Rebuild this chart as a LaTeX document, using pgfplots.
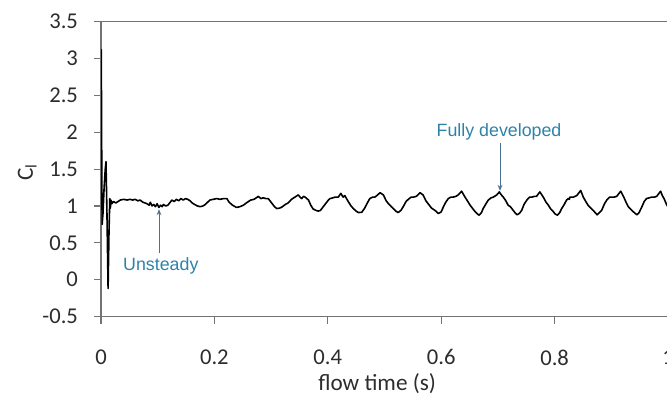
\documentclass[border=0pt]{standalone}
\usepackage{pgfplots}
\pgfplotsset{compat=1.18}
\usepackage{fontspec}
\setmainfont{Carlito}
\newfontfamily\annfont{Liberation Sans}
\usetikzlibrary{arrows.meta}
\definecolor{anntext}{RGB}{46,130,170}
\definecolor{annarrow}{RGB}{70,115,150}
\definecolor{axgray}{RGB}{115,115,115}
\definecolor{lblgray}{RGB}{45,45,45}

\pgfplotstableread{
t v
0.0000 2.40
0.0005 3.12
0.0012 1.80
0.0020 0.75
0.0035 0.90
0.0055 1.25
0.0075 1.50
0.0088 1.60
0.0105 0.90
0.0125 -0.12
0.0140 0.60
0.0155 1.10
0.0165 0.97
0.0175 1.08
0.0190 1.03
0.022 1.06
0.026 1.04
0.030 1.06
0.034 1.08
0.040 1.09
0.046 1.08
0.051 1.09
0.056 1.08
0.060 1.09
0.065 1.07
0.069 1.08
0.074 1.05
0.078 1.04
0.081 1.03
0.085 1.01
0.087 1.05
0.090 1.00
0.093 1.02
0.096 0.99
0.099 1.03
0.102 0.98
0.105 1.01
0.108 0.99
0.110 1.02
0.114 1.00
0.118 1.01
0.122 1.05
0.125 1.08
0.129 1.06
0.133 1.09
0.137 1.07
0.141 1.10
0.145 1.08
0.149 1.10
0.153 1.09
0.157 1.07
0.161 1.04
0.165 1.02
0.170 1.00
0.175 0.99
0.180 1.00
0.184 1.02
0.188 1.05
0.192 1.08
0.198 1.09
0.204 1.10
0.210 1.09
0.216 1.10
0.222 1.10
0.226 1.05
0.232 1.01
0.239 0.98
0.245 0.99
0.251 1.01
0.258 1.05
0.264 1.08
0.270 1.09
0.2775 1.13
0.282 1.10
0.286 1.11
0.291 1.10
0.295 1.10
0.301 1.04
0.306 0.99
0.310 0.965
0.315 0.97
0.319 0.985
0.325 1.02
0.330 1.04
0.336 1.09
0.342 1.12
0.348 1.15
0.351 1.12
0.354 1.10
0.357 1.13
0.360 1.12
0.366 1.08
0.370 1.01
0.374 0.96
0.379 0.94
0.383 0.93
0.387 0.94
0.392 0.99
0.396 1.03
0.401 1.08
0.404 1.10
0.409 1.11
0.413 1.12
0.4185 1.12
0.423 1.17
0.427 1.12
0.430 1.14
0.436 1.06
0.441 1.00
0.445 0.965
0.450 0.93
0.454 0.91
0.460 0.915
0.465 0.97
0.469 1.03
0.474 1.10
0.479 1.12
0.483 1.12
0.488 1.15
0.492 1.18
0.498 1.15
0.503 1.07
0.507 1.03
0.512 0.99
0.516 0.96
0.520 0.93
0.524 0.91
0.529 0.94
0.533 0.99
0.538 1.06
0.542 1.09
0.547 1.12
0.551 1.12
0.556 1.13
0.5626 1.18
0.568 1.15
0.573 1.07
0.577 1.03
0.583 0.97
0.589 0.94
0.595 0.897
0.600 0.92
0.604 0.99
0.608 1.05
0.6125 1.10
0.617 1.12
0.621 1.12
0.626 1.13
0.630 1.15
0.636 1.20
0.642 1.12
0.647 1.06
0.651 1.01
0.656 0.96
0.660 0.92
0.664 0.89
0.667 0.875
0.671 0.91
0.674 0.965
0.679 1.03
0.683 1.08
0.688 1.11
0.692 1.12
0.698 1.15
0.7025 1.19
0.706 1.15
0.7095 1.12
0.714 1.07
0.718 1.01
0.722 0.99
0.727 0.94
0.731 0.90
0.734 0.88
0.738 0.90
0.742 0.94
0.746 1.02
0.751 1.08
0.756 1.12
0.760 1.12
0.764 1.13
0.768 1.13
0.774 1.19
0.780 1.12
0.785 1.05
0.789 1.01
0.793 0.96
0.798 0.92
0.801 0.89
0.805 0.875
0.809 0.91
0.8125 0.965
0.817 1.02
0.821 1.08
0.824 1.10
0.826 1.09
0.827 1.12
0.833 1.12
0.839 1.14
0.846 1.21
0.8506 1.12
0.855 1.06
0.859 1.01
0.864 0.97
0.868 0.94
0.875 0.88
0.879 0.91
0.883 0.94
0.888 1.03
0.892 1.08
0.897 1.12
0.901 1.12
0.905 1.12
0.9095 1.13
0.9166 1.20
0.922 1.12
0.926 1.05
0.930 0.99
0.935 0.95
0.939 0.92
0.945 0.88
0.949 0.91
0.954 0.99
0.958 1.06
0.962 1.10
0.967 1.11
0.971 1.12
0.976 1.12
0.980 1.13
0.987 1.20
0.990 1.14
0.993 1.10
0.998 1.01
1.000 0.99
}\cldata

\begin{document}
\begin{tikzpicture}
\begin{axis}[
  scale only axis, width=283.5pt, height=147.4pt,
  xmin=0, xmax=1, ymin=-0.5, ymax=3.5,
  axis line style={draw=axgray, line width=0.6pt},
  xtick={0,0.2,0.4,0.6,0.8,1},
  ytick={-0.5,0,0.5,1,1.5,2,2.5,3,3.5},
  xtick pos=bottom, ytick pos=left,
  tick align=outside, major tick length=3.5pt,
  tick style={draw=axgray, line width=0.6pt},
  /pgf/number format/assume math mode=true,
  ticklabel style={font=\fontsize{11.3}{13}\selectfont, text=lblgray},
  yticklabel style={xshift=-4.5pt},
  xticklabel style={yshift=-9.5pt},
  xlabel={flow time (s)},
  ylabel={C\textsubscript{l}},
  label style={font=\fontsize{11.6}{13}\selectfont, text=lblgray},
  xlabel style={at={(axis description cs:0.487,0)}, anchor=base, yshift=-37pt},
  ylabel style={at={(axis description cs:0,0.49)}, anchor=base, yshift=34pt},
]
\addplot[black, line width=0.8pt, line join=round] table[x=t, y=v] {\cldata};
\coordinate (O) at (rel axis cs:0,0);
\draw[annarrow, line width=0.5pt, -{Stealth[length=3pt,width=2.4pt]}] (axis cs:0.1023,0.357) -- (axis cs:0.1023,0.956);
\node[anntext, font=\annfont\fontsize{8.9}{10}\selectfont, anchor=base, inner sep=0pt] at (axis cs:0.1055,0.119) {Unsteady};
\draw[annarrow, line width=0.5pt, -{Stealth[length=3pt,width=2.4pt]}] (axis cs:0.7037,1.85) -- (axis cs:0.7037,1.205);
\node[anntext, font=\annfont\fontsize{8.9}{10}\selectfont, anchor=base, inner sep=0pt] at (axis cs:0.702,1.949) {Fully developed};
\end{axis}
\pgfresetboundingbox
\path[use as bounding box] (O) ++(-50.5pt,-39.75pt) rectangle ++(333.5pt,198pt);
\end{tikzpicture}
\end{document}
